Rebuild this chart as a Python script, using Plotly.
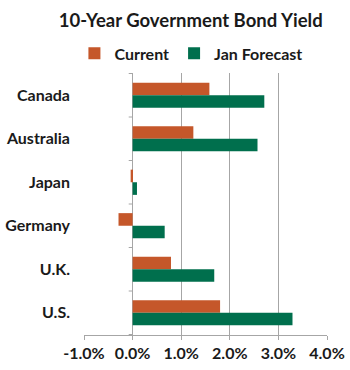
import plotly.graph_objects as go

countries = ["Canada", "Australia", "Japan", "Germany", "U.K.", "U.S."]
current = [1.58, 1.25, -0.04, -0.29, 0.79, 1.80]
forecast = [2.71, 2.57, 0.09, 0.66, 1.68, 3.29]
tick_vals = [-1, 0, 1, 2, 3, 4]
tick_text = ["-1.0%", "0.0%", "1.0%", "2.0%", "3.0%", "4.0%"]

ORANGE = "#C5572A"
GREEN = "#006F4D"
FONT = "Lato"
TXT = "#1a1a1a"

fig = go.Figure()
fig.add_trace(go.Bar(y=countries, x=current, orientation="h", name="<b>Current</b>",
                     marker=dict(color=ORANGE, line=dict(width=0))))
fig.add_trace(go.Bar(y=countries, x=forecast, orientation="h", name="<b>Jan Forecast</b>",
                     marker=dict(color=GREEN, line=dict(width=0))))

# small category-boundary ticks on the zero line
for i in range(len(countries) + 1):
    fig.add_shape(type="line", xref="x", yref="y",
                  x0=-0.08, x1=0, y0=i - 0.5, y1=i - 0.5,
                  line=dict(color="#A6A6A6", width=1))

fig.update_layout(
    width=350, height=370,
    margin=dict(l=84, r=23, t=73, b=35, autoexpand=False),
    paper_bgcolor="white", plot_bgcolor="white",
    barmode="group", bargap=0.42, bargroupgap=0,
    font=dict(family=FONT, color=TXT),
    title=dict(text="<b>10-Year Government Bond Yield</b>", x=0.545, xanchor="center",
               y=0.945, yanchor="middle", font=dict(size=18.5, family=FONT, color=TXT)),
    legend=dict(orientation="h", x=0.44, xanchor="center", y=1.075, yanchor="middle",
                font=dict(size=16, family=FONT, color=TXT),
                traceorder="normal", bgcolor="rgba(0,0,0,0)"),
    showlegend=True,
)
fig.update_xaxes(range=[-1, 4], tickvals=tick_vals,
                 ticktext=["<b>" + t + "</b>" for t in tick_text],
                 showgrid=True, gridcolor="#A6A6A6", gridwidth=1,
                 zeroline=True, zerolinecolor="#A6A6A6", zerolinewidth=1,
                 showline=True, linecolor="#A6A6A6", linewidth=1,
                 ticks="outside", ticklen=4, tickcolor="#A6A6A6", automargin=False,
                 tickfont=dict(size=16, family=FONT, color=TXT))
fig.update_yaxes(autorange="reversed", showgrid=False, zeroline=False, showline=False,
                 ticks="", ticklabelstandoff=13, automargin=False,
                 tickvals=countries, ticktext=["<b>" + c + "</b>" for c in countries],
                 tickfont=dict(size=16, family=FONT, color=TXT))

fig.write_html("out.html")
